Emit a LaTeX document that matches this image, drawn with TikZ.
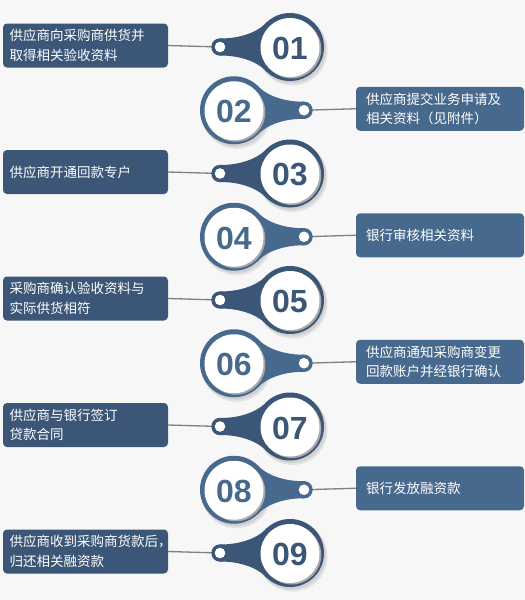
\documentclass[tikz,border=0pt]{standalone}
\usepackage{fontspec}
\setmainfont{Liberation Sans}
\newfontfamily\cjk{Noto Sans CJK SC}
\usetikzlibrary{calc}
\definecolor{bg}{HTML}{F7F7F7}
\definecolor{oddblue}{HTML}{3B5677}
\definecolor{evenblue}{HTML}{46698D}
\definecolor{linegray}{HTML}{7F7F7F}
\definecolor{shadowgray}{HTML}{A8A8A8}
\tikzset{
  stepbox/.style={rounded corners=4pt, minimum width=165pt, minimum height=44pt, inner sep=0pt, draw=none},
  steptext/.style={font=\cjk\fontsize{13.5}{19.5}\selectfont, text=white, align=left, inner sep=0pt, anchor=west},
  numtext/.style={font=\fontsize{32}{32}\selectfont\bfseries, inner sep=0pt},
  conn/.style={draw=linegray, line width=1.3pt},
}
% #1 id, #2 cx, #3 dir, #4 yc, #5 colour, #6 number
\newcommand\mypin[6]{%
  \pgfmathsetmacro\kx{#2+#3*70}
  \fill[black, opacity=0.08] (#2+2.5,#4+3.5) circle (35);
  \fill[black, opacity=0.08] (#2+1.5,#4+2) circle (34.5);
  \fill[#5] (\kx,#4-8.5) .. controls (\kx-#3*27,#4-8.5) and (#2+#3*28,#4-19) .. (#2+#3*23,#4-25)
     -- (#2+#3*23,#4+25) .. controls (#2+#3*28,#4+19) and (\kx-#3*27,#4+8.5) .. (\kx,#4+8.5) -- cycle;
  \fill[#5] (#2,#4) circle (34);
  \fill[#5] (\kx,#4) circle (8.7);
  \fill[white] (\kx,#4) circle (5.3);
  \fill[shadowgray] (#2+1.8,#4+2) circle (29.5);
  \fill[white] (#2,#4+0.5) circle (29.5);
  \node[numtext, text=#5] (num#1) at (#2,#4+1.5) {#6};
}
\newcommand\oddrow[3]{%
  \pgfmathsetmacro\yc{47+63.25*(#1-1)}
  \coordinate (knob#1) at (220,\yc);
  \node[stepbox, fill=oddblue] (box#1) at (85.5,\yc-1.5) {};
  \node[steptext] (txt#1) at (9.5,\yc-1.5) {#3};
  \draw[conn] (box#1.east) -- (knob#1);
  \mypin{#1}{290}{-1}{\yc}{oddblue}{#2}
}
\newcommand\evenrow[3]{%
  \pgfmathsetmacro\yc{47+63.25*(#1-1)}
  \coordinate (knob#1) at (304,\yc);
  \node[stepbox, minimum width=168pt, fill=evenblue] (box#1) at (440,\yc-1.5) {};
  \node[steptext] (txt#1) at (366,\yc-1.5) {#3};
  \draw[conn] (box#1.west) -- (knob#1);
  \mypin{#1}{234}{1}{\yc}{evenblue}{#2}
}
\begin{document}
\begin{tikzpicture}[x=1pt,y=-1pt]
\fill[bg] (0,0) rectangle (525,600);
\useasboundingbox (0,0) rectangle (525,600);
\oddrow{1}{01}{供应商向采购商供货并\\取得相关验收资料}
\evenrow{2}{02}{供应商提交业务申请及\\相关资料（见附件）}
\oddrow{3}{03}{供应商开通回款专户}
\evenrow{4}{04}{银行审核相关资料}
\oddrow{5}{05}{采购商确认验收资料与\\实际供货相符}
\evenrow{6}{06}{供应商通知采购商变更\\回款账户并经银行确认}
\oddrow{7}{07}{供应商与银行签订\\贷款合同}
\evenrow{8}{08}{银行发放融资款}
\oddrow{9}{09}{供应商收到采购商货款后，\\归还相关融资款}
\end{tikzpicture}
\end{document}
